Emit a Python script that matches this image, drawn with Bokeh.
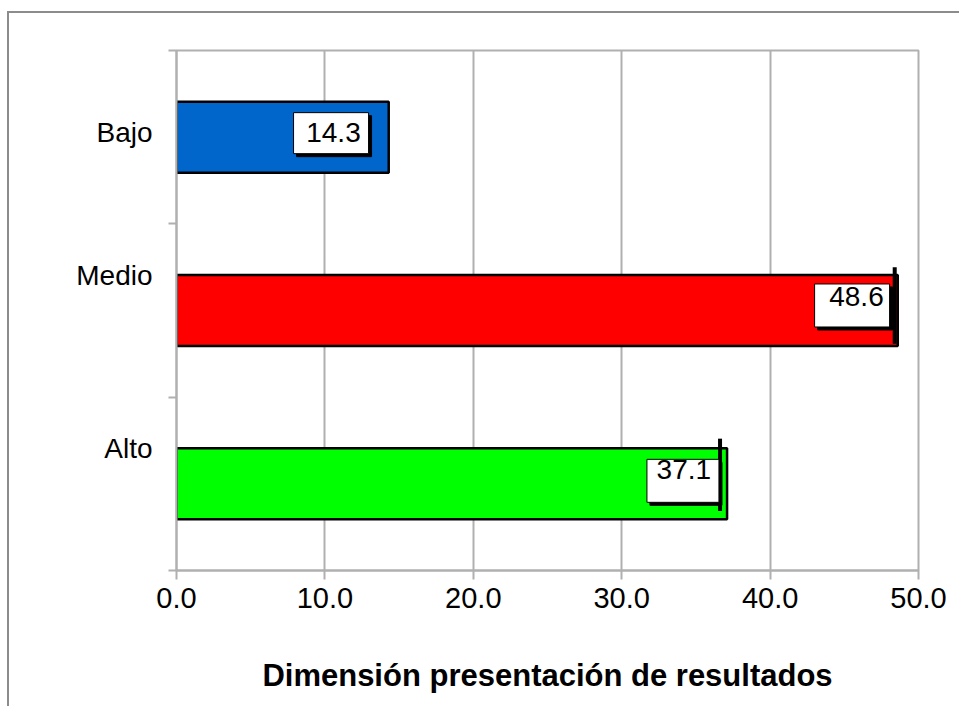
from bokeh.plotting import figure
from bokeh.models import ColumnDataSource, FixedTicker, Range1d, NumeralTickFormatter
from bokeh.embed import file_html
from bokeh.resources import INLINE
from bokeh.core.properties import value

# ---- data ----
categories = ["Bajo", "Medio", "Alto"]
percentages = [14.3, 48.6, 37.1]
bar_colors = ["#0066CC", "#FF0000", "#00FF00"]
x_ticks = [0, 10, 20, 30, 40, 50]
axis_title = "Dimensión presentación de resultados"

# ---- layout / style constants ----
FONT = "Liberation Sans"
W, H = 952, 695
X_MAX = 50
FRAME_W = 740
FRAME_H = 518
PX_X = FRAME_W / X_MAX            # px per x unit
PX_Y = FRAME_H / len(categories)  # px per y unit
GRID = "#b0b0b0"

n = len(categories)
y_center = [n - 1 - i + 0.5 for i in range(n)]
labels = [f"{v:.1f}" for v in percentages]

# per-label style offsets (pixels; +up for box_up_px)
label_shift_px = [5, 35, 35]       # category label raised above band center
box_w = [75, 75, 72]
box_h = [41, 43, 43]
box_right_px = [-20, -8, -8]
box_up_px = [4, 5, 3]
txt_dx = [-28, -14, -16]
txt_dy = [-5, -14, -14]          # screen offsets for the numbers

box_x = [v + (r - w / 2) / PX_X for v, r, w in zip(percentages, box_right_px, box_w)]
box_y = [c + u / PX_Y for c, u in zip(y_center, box_up_px)]
sh_x = [x + 3 / PX_X for x in box_x]
sh_y = [y - 3 / PX_Y for y in box_y]

src = ColumnDataSource(dict(
    y=y_center, v=percentages, color=bar_colors, label=labels,
    bx=box_x, by=box_y, sx=sh_x, sy=sh_y, bw=box_w, bh=box_h,
    txt_dx=txt_dx, txt_dy=txt_dy,
))

p = figure(width=W, height=H, x_range=Range1d(0, X_MAX), y_range=Range1d(0, n),
           output_backend="svg", toolbar_location=None,
           min_border_left=167, min_border_top=37, min_border_right=43, min_border_bottom=138)
p.styles = {"border-top": "2px solid #8c8c8c", "border-left": "2px solid #8c8c8c",
            "margin-left": "7px", "margin-top": "11px"}

p.outline_line_color = GRID
p.outline_line_width = 2
p.background_fill_color = "white"
p.border_fill_color = "white"

# grids
p.ygrid.grid_line_color = None
p.xgrid.ticker = FixedTicker(ticks=x_ticks)
p.xgrid.grid_line_color = GRID
p.xgrid.grid_line_width = 2

# x axis
xa = p.xaxis[0]
xa.ticker = FixedTicker(ticks=x_ticks)
xa.formatter = NumeralTickFormatter(format="0.0")
xa.axis_line_color = GRID
xa.axis_line_width = 2
xa.major_tick_line_color = GRID
xa.major_tick_line_width = 2
xa.major_tick_out = 9
xa.major_tick_in = 0
xa.minor_tick_line_color = None
xa.major_label_text_font = FONT
xa.major_label_text_font_size = "29px"
xa.major_label_text_color = "black"
xa.major_label_standoff = 8
xa.axis_label = axis_title
xa.axis_label_text_font = FONT
xa.axis_label_text_font_size = "31px"
xa.axis_label_text_font_style = "bold"
xa.axis_label_text_color = "black"
xa.axis_label_standoff = 47

# y axis: category labels as major ticks (no marks), band boundaries as minor ticks
label_pos = [round(c + s / PX_Y, 3) for c, s in zip(y_center, label_shift_px)]
ya = p.yaxis[0]
ya.ticker = FixedTicker(ticks=label_pos, minor_ticks=list(range(n + 1)))
ya.major_label_overrides = {pos: cat for pos, cat in zip(label_pos, categories)}
ya.axis_line_color = GRID
ya.axis_line_width = 2
ya.major_tick_line_color = None
ya.major_tick_out = 0
ya.major_tick_in = 0
ya.minor_tick_line_color = GRID
ya.minor_tick_line_width = 2
ya.minor_tick_out = 8
ya.minor_tick_in = 0
ya.major_label_text_font = FONT
ya.major_label_text_font_size = "28px"
ya.major_label_text_color = "black"
ya.major_label_standoff = 16

# bars
p.hbar(y="y", left=0, right="v", height=0.41, fill_color="color",
       line_color="black", line_width=2.5, source=src)

# thick dark marks near the ends of two bars (as in the reference)
mark_rows = [1, 2]
mark_dx_px = {1: 3, 2: 7}
mark_dy_px = {1: 5, 2: 9}
mark_len_px = {1: 76, 2: 72}
p.segment(
    x0=[percentages[i] - mark_dx_px[i] / PX_X for i in mark_rows],
    x1=[percentages[i] - mark_dx_px[i] / PX_X for i in mark_rows],
    y0=[y_center[i] + (mark_dy_px[i] - mark_len_px[i] / 2) / PX_Y for i in mark_rows],
    y1=[y_center[i] + (mark_dy_px[i] + mark_len_px[i] / 2) / PX_Y for i in mark_rows],
    line_color="black", line_width=4)

# label shadows and boxes
p.rect(x="sx", y="sy", width="bw", height="bh", width_units="screen", height_units="screen",
       fill_color="black", line_color="black", line_width=1, source=src)
p.rect(x="bx", y="by", width="bw", height="bh", width_units="screen", height_units="screen",
       fill_color="white", line_color="black", line_width=1, source=src)
# label texts
p.text(x="v", y="y", text="label", source=src, x_offset="txt_dx", y_offset="txt_dy",
       text_align="right", text_baseline="middle", text_font=value(FONT),
       text_font_size="28px", text_color="black")

open("out.html", "w").write(file_html(p, INLINE))
